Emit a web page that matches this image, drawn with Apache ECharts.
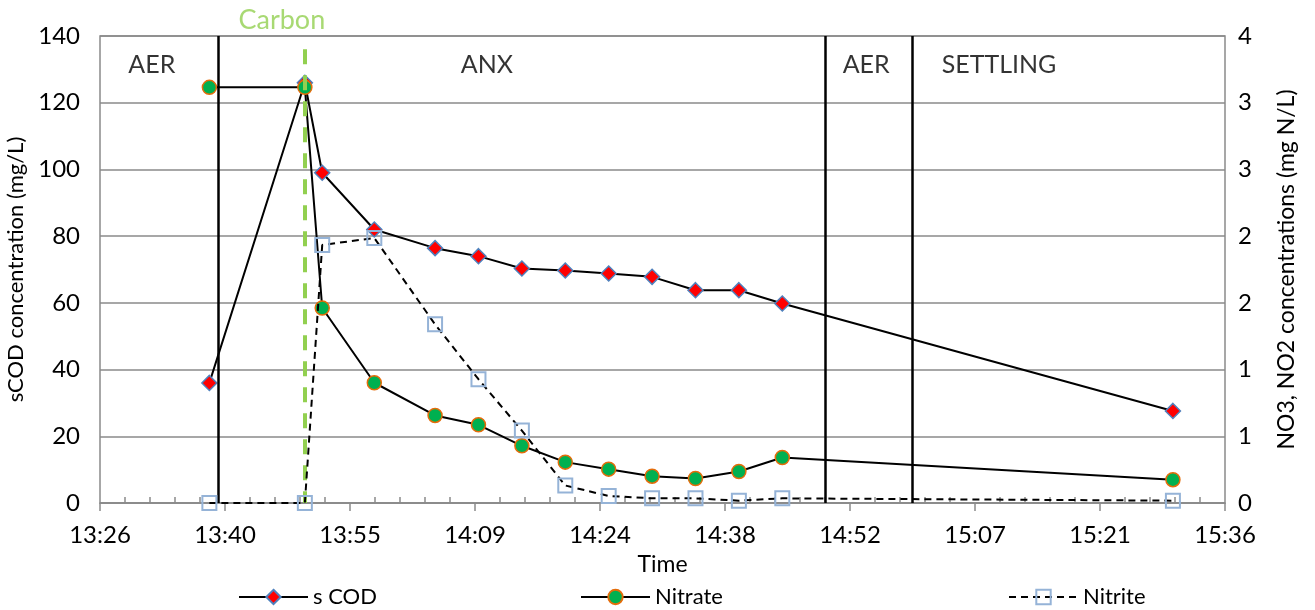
<!DOCTYPE html>
<html>
<head>
<meta charset="utf-8">
<script src="https://cdn.jsdelivr.net/npm/echarts@6/dist/echarts.min.js"></script>
<style>
html, body { margin: 0; padding: 0; background: #fff; }
#main { width: 1315px; height: 610px; }
</style>
</head>
<body>
<div id="main"></div>
<script>
// sampling times and measured values
var sampleTimes = ['13:39', '13:50', '13:52', '13:58', '14:05', '14:10', '14:15', '14:20', '14:25', '14:30', '14:35', '14:40', '14:45', '15:30']
var sCOD = [36, 126, 99, 82, 76.4, 74, 70.3, 69.7, 68.8, 67.8, 63.8, 63.8, 59.8, 27.6]
var nitrate = [3.56, 3.56, 1.67, 1.03, 0.75, 0.67, 0.49, 0.35, 0.29, 0.23, 0.21, 0.27, 0.39, 0.2]
var nitrite = [0, 0, 2.21, 2.27, 1.53, 1.06, 0.62, 0.15, 0.06, 0.04, 0.04, 0.02, 0.04, 0.02]

// phase boundaries
var phaseLines = ['13:40', '14:50', '15:00']
var carbonTime = '13:50'
var phaseNames = ['AER', 'ANX', 'AER', 'SETTLING']
var phaseLabelAt = ['13:29.6', '14:07.9', '14:51.9', '15:03.3']

var FONT = 'Lato'
var FS = 24
var GRID_H = 610 - 36 - 107

function toMin(s) {
    var p = s.split(':')
    return parseInt(p[0]) * 60 + parseFloat(p[1])
}

function pad(n) {
    return n < 10 ? '0' + n : '' + n
}

function fmtTime(v) {
    var m = Math.floor(v + 1e-6)
    return Math.floor(m / 60) + ':' + pad(m % 60)
}

function pairs(vals) {
    var out = []
    for (var i = 0; i < vals.length; i++) {
        out.push([toMin(sampleTimes[i]), vals[i]])
    }
    return out
}

var myChart = echarts.init(document.getElementById('main'))

var boundaryData = []
for (var i = 0; i < phaseLines.length; i++) {
    boundaryData.push({ xAxis: toMin(phaseLines[i]) })
}
// dashed carbon dosing line, drawn from the top down
boundaryData.push([
    { coord: [toMin(carbonTime), 136], lineStyle: { color: '#92D050', width: 4, type: [15, 11] } },
    { coord: [toMin(carbonTime), 0] }
])

var labelData = []
for (var i = 0; i < phaseNames.length; i++) {
    labelData.push({ name: phaseNames[i], value: [toMin(phaseLabelAt[i]), 131.3] })
}

var option = {
    animation: false,
    textStyle: { fontFamily: FONT },
    grid: {
        left: 100, right: 90, top: 36, bottom: 107,
        outerBoundsMode: 'none',
        show: true, borderColor: '#8a8a8a', borderWidth: 1.5
    },
    legend: [
        { data: ['s COD'], left: 233, top: 581 },
        { data: ['Nitrate'], left: 575, top: 581 },
        { data: ['Nitrite'], left: 1003, top: 581 }
    ].map(function (l) {
        l.itemWidth = 69
        l.itemHeight = 18
        l.textStyle = { fontFamily: FONT, fontSize: 22, color: '#000' }
        return l
    }),
    xAxis: [{
        type: 'value',
        min: 806.4,
        max: 936,
        interval: 14.4,
        name: 'Time',
        nameLocation: 'middle',
        nameGap: 50,
        nameTextStyle: { fontFamily: FONT, fontSize: 23, color: '#000' },
        axisLine: { lineStyle: { color: '#8a8a8a', width: 1.5 } },
        axisTick: { show: true, length: 8, lineStyle: { color: '#8a8a8a', width: 1.5 } },
        axisLabel: { fontFamily: FONT, fontSize: FS, color: '#000', margin: 20, formatter: fmtTime },
        splitLine: { show: false }
    }, {
        // helper axis moved onto the bottom edge so its minor ticks point up into the plot
        type: 'value',
        min: 806.4,
        max: 936,
        interval: 14.4,
        position: 'top',
        offset: -GRID_H,
        axisLine: { show: false },
        axisTick: { show: false },
        minorTick: { show: true, splitNumber: 5, length: 6, lineStyle: { color: '#8a8a8a', width: 1.5 } },
        axisLabel: { show: false },
        splitLine: { show: false }
    }],
    yAxis: [{
        type: 'value',
        min: 0,
        max: 140,
        interval: 20,
        name: 'sCOD concentration (mg/L)',
        nameLocation: 'middle',
        nameGap: 63,
        nameTextStyle: { fontFamily: FONT, fontSize: 22, color: '#000' },
        axisLine: { show: false },
        axisTick: { show: false },
        axisLabel: { fontFamily: FONT, fontSize: FS, color: '#000', margin: 20 },
        splitLine: { lineStyle: { color: '#8a8a8a', width: 1.5 } }
    }, {
        type: 'value',
        min: 0,
        max: 4,
        interval: 4 / 7,
        position: 'right',
        name: 'NO3, NO2 concentrations (mg N/L)',
        nameLocation: 'middle',
        nameGap: 50,
        nameTextStyle: { fontFamily: FONT, fontSize: 23, color: '#000' },
        axisLine: { show: false },
        axisTick: { show: false },
        axisLabel: {
            fontFamily: FONT, fontSize: FS, color: '#000', margin: 13,
            formatter: function (v) { return Math.round(v + 1e-9) }
        },
        splitLine: { show: false }
    }],
    series: [
        {
            name: 'phases',
            type: 'line',
            data: [],
            z: 1,
            markLine: {
                silent: true,
                symbol: 'none',
                label: { show: false },
                lineStyle: { color: '#000', width: 2.5, type: 'solid' },
                data: boundaryData
            }
        },
        {
            name: 'phaseText',
            type: 'scatter',
            data: labelData,
            symbolSize: 1,
            itemStyle: { color: 'rgba(0,0,0,0)' },
            label: {
                show: true, position: 'right', distance: 0, formatter: '{b}',
                fontFamily: FONT, fontSize: 25, color: '#000'
            },
            silent: true,
            z: 2
        },
        {
            name: 'carbonText',
            type: 'scatter',
            data: [{ name: 'Carbon', value: [toMin(carbonTime) - 2.65, 144.8] }],
            clip: false,
            symbolSize: 1,
            itemStyle: { color: 'rgba(0,0,0,0)' },
            label: {
                show: true, position: 'inside', formatter: '{b}',
                fontFamily: FONT, fontSize: 27, color: '#92D050'
            },
            silent: true
        },
        {
            name: 's COD',
            type: 'line',
            yAxisIndex: 0,
            data: pairs(sCOD),
            symbol: 'diamond',
            symbolSize: 15,
            lineStyle: { color: '#000', width: 2 },
            itemStyle: { color: '#FF0000', borderColor: '#4F81BD', borderWidth: 1.5 },
            z: 3
        },
        {
            name: 'Nitrate',
            type: 'line',
            yAxisIndex: 1,
            data: pairs(nitrate),
            symbol: 'circle',
            symbolSize: 14,
            lineStyle: { color: '#000', width: 2 },
            itemStyle: { color: '#00B050', borderColor: '#E46C0A', borderWidth: 1.5 },
            z: 4
        },
        {
            name: 'Nitrite',
            type: 'line',
            yAxisIndex: 1,
            data: pairs(nitrite),
            symbol: 'rect',
            symbolSize: 14,
            lineStyle: { color: '#000', width: 2, type: [7, 5] },
            itemStyle: { color: 'rgba(255,255,255,0)', borderColor: '#95B3D7', borderWidth: 2 },
            z: 5
        }
    ]
}

myChart.setOption(option)
</script>
</body>
</html>
